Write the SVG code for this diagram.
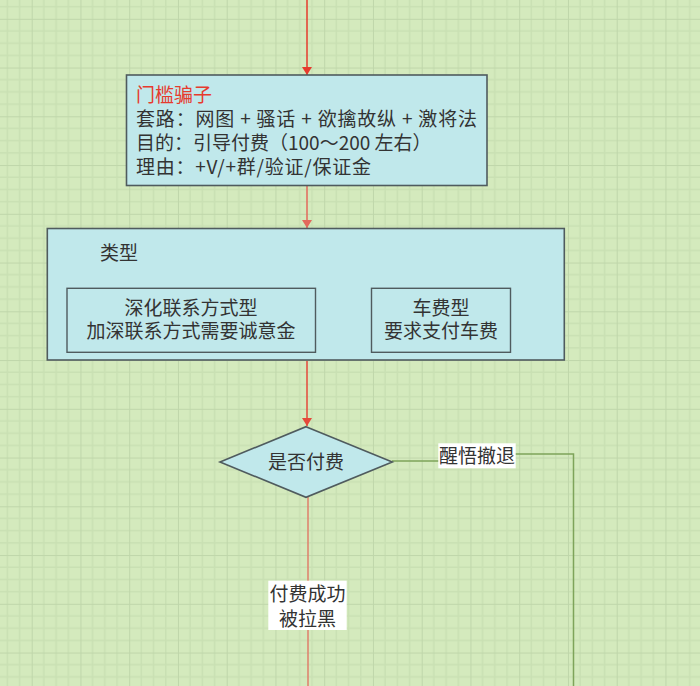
<svg xmlns="http://www.w3.org/2000/svg" width="700" height="686" viewBox="0 0 700 686">
<defs>
<pattern id="grid" x="31.7" y="18.8" width="48.75" height="48.75" patternUnits="userSpaceOnUse">
<rect width="48.75" height="48.75" fill="#d4eabd"/>
<path d="M12.19 0V48.75M24.38 0V48.75M36.56 0V48.75M0 12.19H48.75M0 24.38H48.75M0 36.56H48.75" stroke="#c9e0b3" stroke-width="1.5" fill="none"/>
<path d="M0 0V48.75M0 0H48.75" stroke="#bfd6aa" stroke-width="2" fill="none"/>
</pattern>
<marker id="arrRed" viewBox="0 0 10 10" refX="10" refY="5" markerWidth="8" markerHeight="10" markerUnits="userSpaceOnUse" orient="auto" preserveAspectRatio="none">
<path d="M0 0L10 5L0 10z" fill="#e63b2e"/>
</marker>
<marker id="arrSalmon" viewBox="0 0 10 10" refX="10" refY="5" markerWidth="8" markerHeight="10" markerUnits="userSpaceOnUse" orient="auto" preserveAspectRatio="none">
<path d="M0 0L10 5L0 10z" fill="#e3695c"/>
</marker>
<marker id="arrRed2" viewBox="0 0 10 10" refX="10" refY="5" markerWidth="8" markerHeight="10" markerUnits="userSpaceOnUse" orient="auto" preserveAspectRatio="none">
<path d="M0 0L10 5L0 10z" fill="#e5493b"/>
</marker>
</defs>
<style>
text{font-family:"Noto Sans CJK SC","Noto Sans",sans-serif;font-size:19px;fill:#333333}
.box{fill:#c0e8eb;stroke:#4f5b5e;stroke-width:1.6}
.inner{fill:none;stroke:#4f5b5e;stroke-width:1.4}
.mid{text-anchor:middle}
.lbl{fill:#ffffff}
.conn{fill:none;stroke-width:1.5}
</style>
<rect width="700" height="686" fill="url(#grid)"/>
<g id="connectors">
<line class="conn" x1="307" y1="0" x2="307" y2="75" stroke="#e63b2e" marker-end="url(#arrRed)"/>
<line class="conn" x1="307" y1="186" x2="307" y2="228" stroke="#e3695c" marker-end="url(#arrSalmon)"/>
<line class="conn" x1="307" y1="361" x2="307" y2="426" stroke="#e5493b" marker-end="url(#arrRed2)"/>
<line class="conn" x1="308" y1="497" x2="308" y2="686" stroke="#df7f6b"/>
<polyline class="conn" points="392,461 477,461 477,454 573.5,454 573.5,686" stroke="#7ea45a"/>
<rect class="lbl" x="438.3" y="443.3" width="77.4" height="25"/>
<text class="mid" x="477" y="462.5">醒悟撤退</text>
<rect class="lbl" x="268.3" y="580.7" width="78.4" height="49.3"/>
<text class="mid" x="307.5" y="600.5">付费成功</text>
<text class="mid" x="307.5" y="625.5">被拉黑</text>
</g>
<g id="node-menkan">
<rect class="box" x="126.5" y="75" width="360.5" height="110.5"/>
<text x="136" y="102" style="fill:#e63b2e">门槛骗子</text>
<text x="136" y="126" textLength="341" lengthAdjust="spacing">套路：网图 + 骚话 + 欲擒故纵 + 激将法</text>
<text x="136" y="150">目的：引导付费（100～200 左右）</text>
<text x="136" y="174" textLength="235" lengthAdjust="spacing">理由：+V/+群/验证/保证金</text>
</g>
<g id="node-types">
<rect class="box" x="47.3" y="228.5" width="517" height="131.5"/>
<text x="100" y="260">类型</text>
</g>
<g id="node-type-a">
<rect class="inner" x="67" y="288.3" width="248.5" height="64"/>
<text class="mid" x="191" y="314.5">深化联系方式型</text>
<text class="mid" x="191" y="338">加深联系方式需要诚意金</text>
</g>
<g id="node-type-b">
<rect class="inner" x="371.5" y="288.3" width="139" height="64"/>
<text class="mid" x="441" y="314.5">车费型</text>
<text class="mid" x="441" y="338">要求支付车费</text>
</g>
<g id="node-pay">
<polygon class="box" points="306,426.7 392.3,462 306,497.3 220,462"/>
<text class="mid" x="306" y="469">是否付费</text>
</g>
</svg>
